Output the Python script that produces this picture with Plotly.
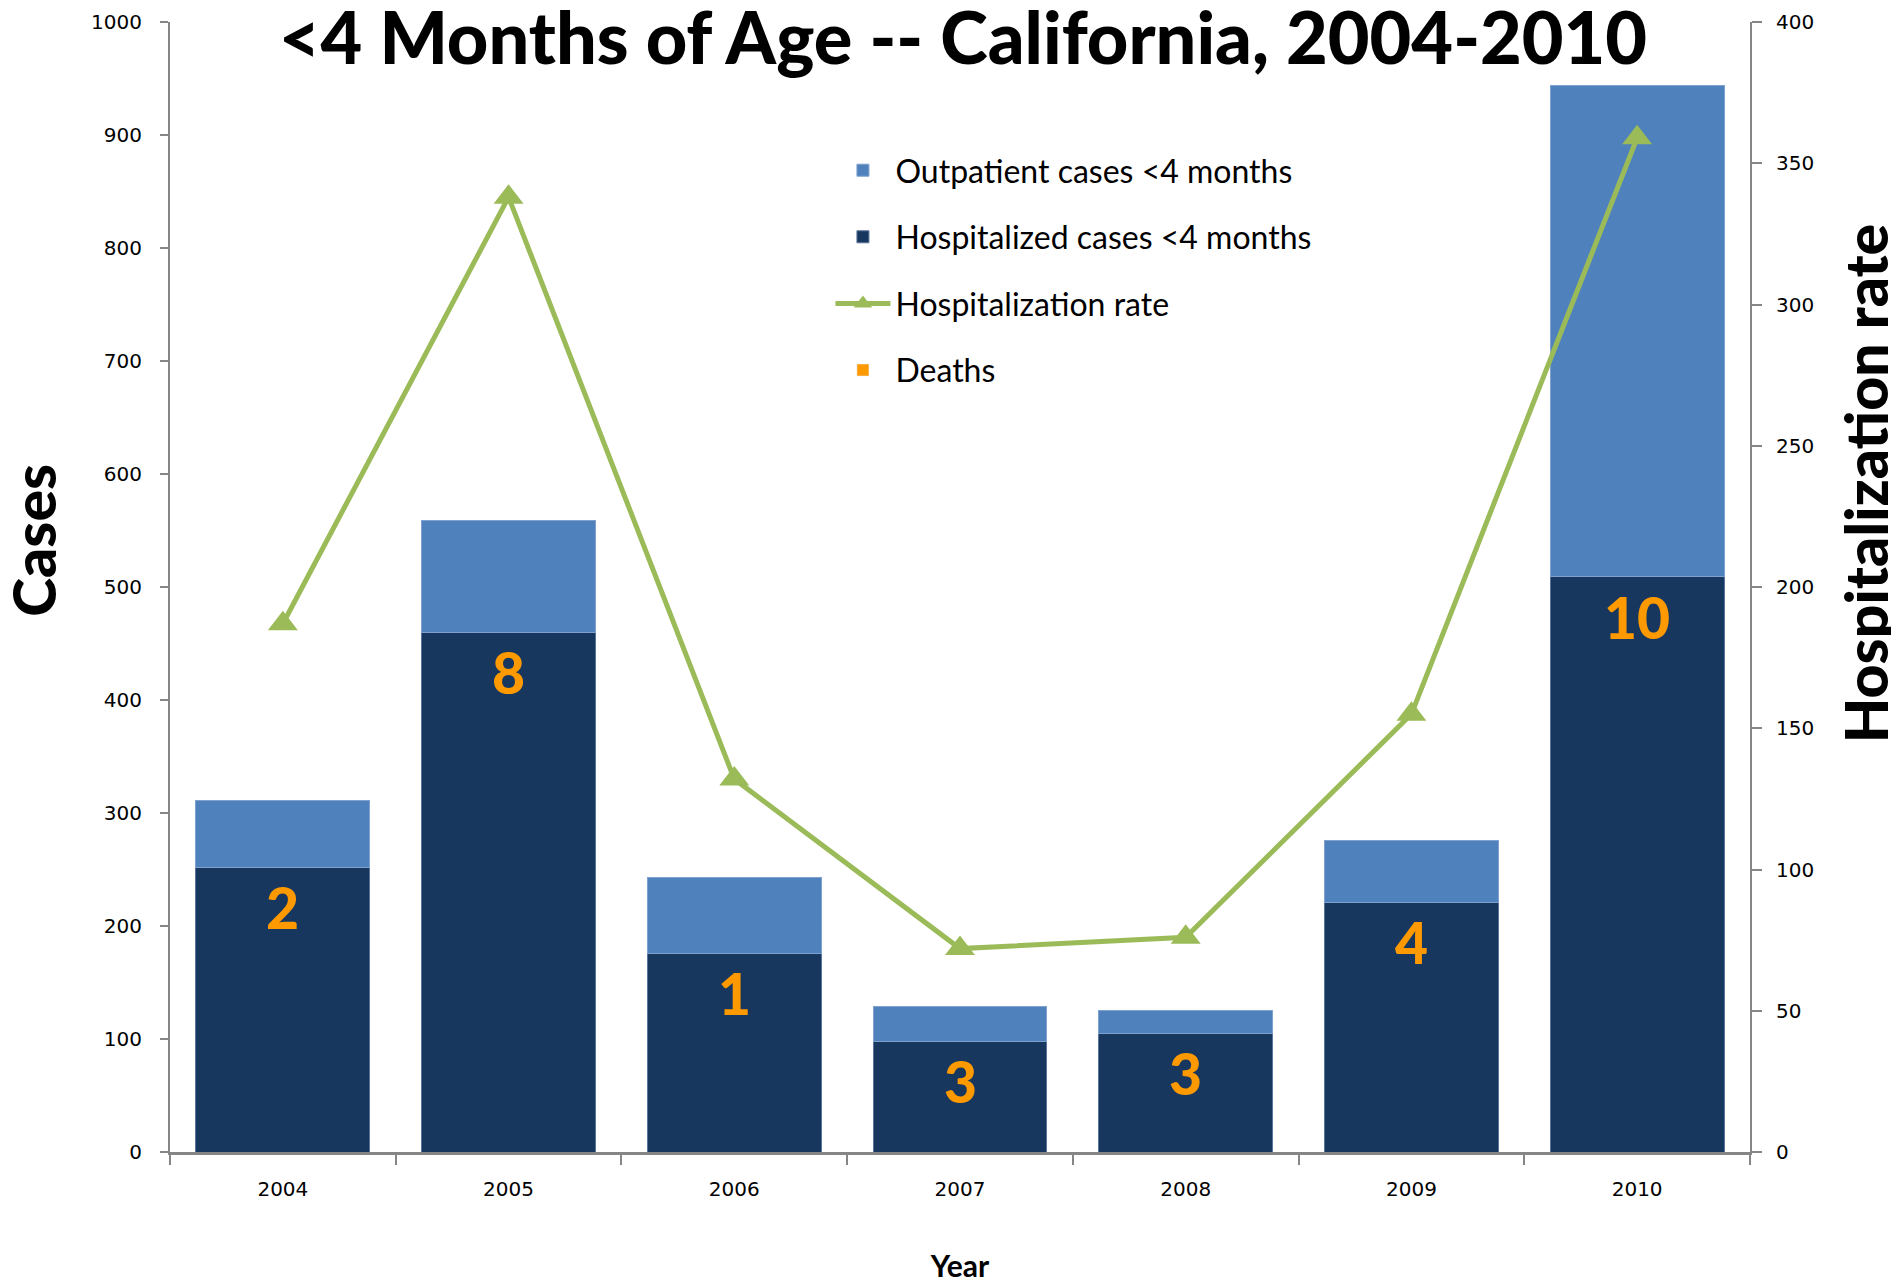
import plotly.graph_objects as go

years = ["2004", "2005", "2006", "2007", "2008", "2009", "2010"]
hospitalized = [252, 460, 176, 98, 105, 221, 509]
outpatient = [59, 99, 67, 31, 20, 55, 435]
hosp_rate = [187, 338, 132, 72, 76, 155, 359]
deaths = [2, 8, 1, 3, 3, 4, 10]

BLUE = "#4F81BD"
NAVY = "#17375E"
GREEN = "#9BBB59"
ORANGE = "#FF9900"
AXIS = "#868686"

fig = go.Figure()
fig.add_trace(go.Bar(
    x=years, y=hospitalized, name="Hospitalized cases <4 months",
    marker=dict(color=NAVY, line=dict(color="#5A7399", width=1)),
    legendrank=2, legendgroup="b",
))
fig.add_trace(go.Bar(
    x=years, y=outpatient, name="Outpatient cases <4 months",
    marker=dict(color=BLUE, line=dict(color="#7FA1CF", width=1)),
    legendrank=1, legendgroup="a",
))
fig.add_trace(go.Scatter(
    x=years, y=hosp_rate, name="Hospitalization rate", yaxis="y2",
    mode="lines+markers",
    line=dict(color=GREEN, width=5),
    marker=dict(symbol="triangle-up", size=26, color=GREEN),
    legendrank=3, legendgroup="c",
))
# legend entry only; the numbers are drawn as annotations below
fig.add_trace(go.Bar(
    x=years, y=[None] * len(years), name="Deaths",
    marker_color=ORANGE, legendrank=4, legendgroup="d",
))

# category index keeps plotly from reading "2004" as a number
for i, (h, d) in enumerate(zip(hospitalized, deaths)):
    fig.add_annotation(
        x=i, y=h, xref="x", yref="y", text=str(d), showarrow=False,
        xanchor="center", yanchor="top", yshift=-4,
        font=dict(family="Lato", size=57, color=ORANGE, weight=900),
    )

fig.add_annotation(
    x=-0.086, y=0.541, xref="paper", yref="paper", text="Cases",
    textangle=-90, showarrow=False, xanchor="center", yanchor="middle",
    font=dict(family="Lato", size=59, color="black", weight=900),
)
fig.add_annotation(
    x=1.0728, y=0.591, xref="paper", yref="paper", text="Hospitalization rate",
    textangle=-90, showarrow=False, xanchor="center", yanchor="middle",
    font=dict(family="Lato", size=59, color="black", weight=900),
)

fig.update_layout(
    width=1891, height=1275,
    margin=dict(l=162, r=149, t=14, b=131),
    paper_bgcolor="white", plot_bgcolor="white",
    barmode="stack", bargap=0.23,
    title=dict(
        text="<4 Months of Age -- California, 2004-2010",
        x=0.505, xanchor="center", y=0.976, yanchor="middle",
        font=dict(family="Lato", size=72, color="black", weight=900),
    ),
    xaxis=dict(
        type="category", range=[-0.5, 6.5], automargin=False,
        showline=True, linecolor=AXIS, linewidth=3,
        ticks="outside", tickson="boundaries", ticklen=10, tickcolor=AXIS, tickwidth=2,
        tickfont=dict(family="DejaVu Sans", size=20, color="black"),
        ticklabelstandoff=17,
        title=dict(text="<b>Year</b>", font=dict(family="Lato", size=30, color="black"), standoff=58),
        showgrid=False,
    ),
    yaxis=dict(
        range=[0, 1000], dtick=100, automargin=False,
        showline=True, linecolor=AXIS, linewidth=2,
        ticks="outside", ticklen=8, tickcolor=AXIS, tickwidth=2,
        tickfont=dict(family="DejaVu Sans", size=20, color="black"),
        ticklabelstandoff=14,
        showgrid=False, zeroline=False,
    ),
    yaxis2=dict(
        overlaying="y", side="right", range=[0, 400], dtick=50, automargin=False,
        showline=True, linecolor=AXIS, linewidth=2,
        ticks="outside", ticklen=10, tickcolor=AXIS, tickwidth=2,
        tickfont=dict(family="DejaVu Sans", size=20, color="black"),
        ticklabelstandoff=10,
        showgrid=False, zeroline=False,
    ),
    legend=dict(
        x=0.418, y=0.893, xanchor="left", yanchor="top",
        traceorder="grouped", tracegroupgap=22, itemwidth=55,
        bgcolor="rgba(0,0,0,0)",
        font=dict(family="Lato", size=32, color="black"),
    ),
)

fig.write_html("out.html")
